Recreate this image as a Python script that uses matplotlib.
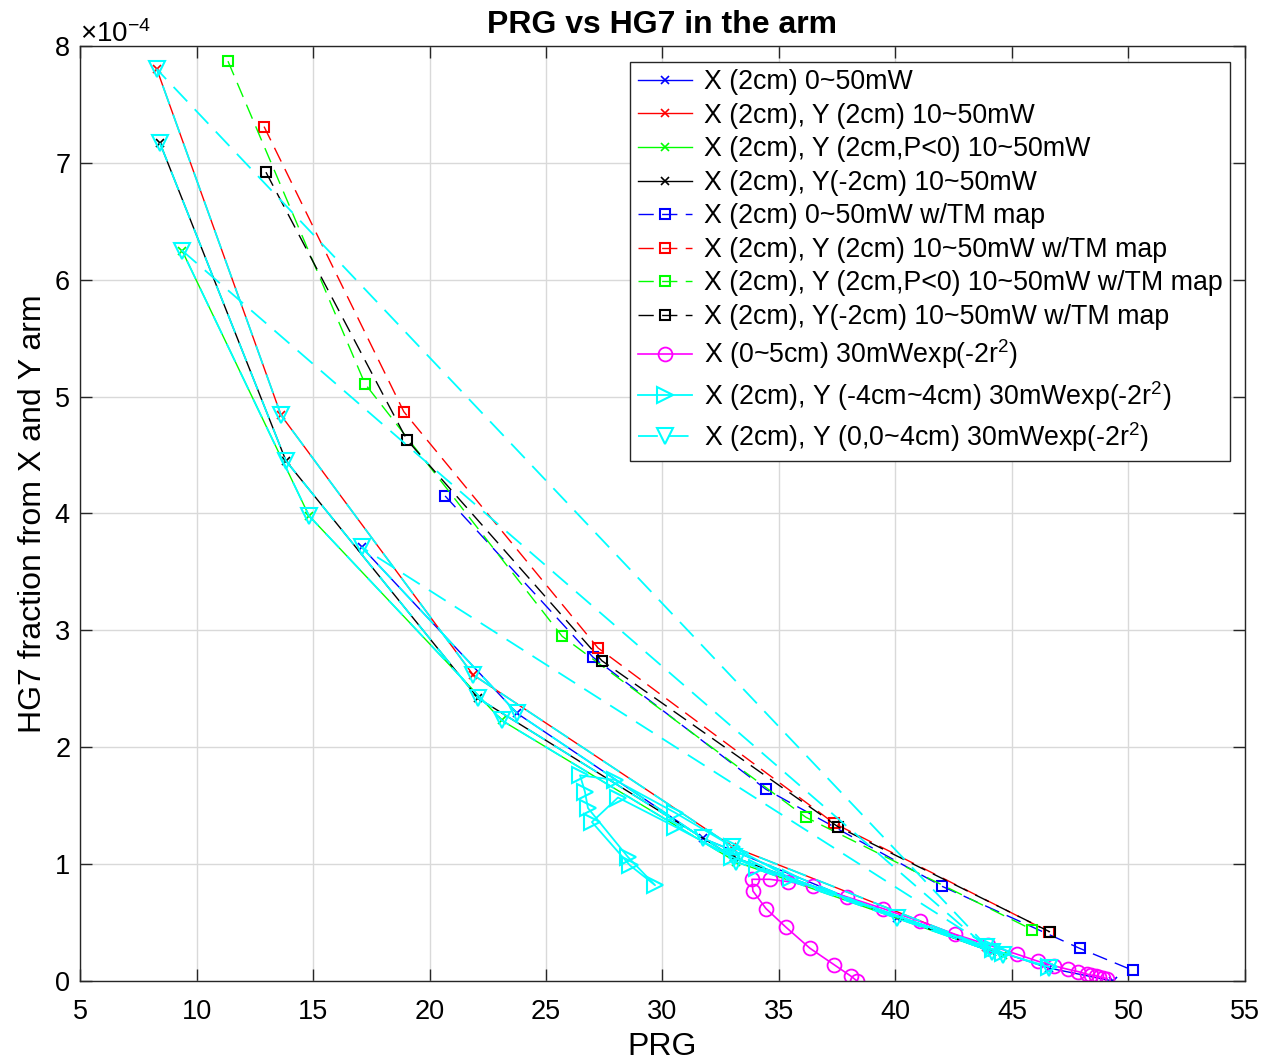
import matplotlib
matplotlib.use("Agg")
import matplotlib.pyplot as plt
from matplotlib.ticker import ScalarFormatter, MultipleLocator

plt.rcParams['font.family'] = ['Liberation Sans', 'DejaVu Sans']
plt.rcParams['mathtext.fontset'] = 'custom'
plt.rcParams['mathtext.rm'] = 'Liberation Sans'
plt.rcParams['mathtext.it'] = 'Liberation Sans'

SCALE = 1e-4

# ---- data (HG7 values in units of 1e-4) ----
blue_x_prg = [17.1, 23.76, 31.74, 40.06, 46.6, 49.33]
blue_x_hg7 = [3.71, 2.29, 1.22, 0.54, 0.11, 0.0]

red_x_prg = [8.3, 13.63, 21.87, 33.0, 43.9]
red_x_hg7 = [7.80, 4.84, 2.62, 1.15, 0.29]

green_x_prg = [9.38, 14.83, 23.1, 33.15, 44.6]
green_x_hg7 = [6.25, 3.98, 2.23, 1.02, 0.22]

black_x_prg = [8.43, 13.84, 22.08, 33.05, 44.14]
black_x_hg7 = [7.17, 4.45, 2.42, 1.06, 0.25]

blue_s_prg = [20.67, 27.02, 34.44, 42.0, 47.9, 50.2]
blue_s_hg7 = [4.15, 2.77, 1.64, 0.81, 0.28, 0.09]

red_s_prg = [12.9, 18.9, 27.23, 37.36, 46.6]
red_s_hg7 = [7.31, 4.87, 2.85, 1.35, 0.42]

green_s_prg = [11.35, 17.23, 25.69, 36.16, 45.86]
green_s_hg7 = [7.87, 5.11, 2.95, 1.40, 0.44]

black_s_prg = [12.98, 19.03, 27.4, 37.53, 46.63]
black_s_hg7 = [6.92, 4.63, 2.74, 1.32, 0.42]

mag_prg = [49.08, 48.9, 48.75, 48.6, 48.4, 48.2, 47.85, 47.4, 46.8, 46.1, 45.2,
           43.97, 42.55, 41.05, 39.46, 37.9, 36.46, 35.4, 34.6, 33.84,
           33.88, 34.44, 35.3, 36.33, 37.36, 38.1, 38.35]
mag_hg7 = [0.02, 0.03, 0.035, 0.045, 0.05, 0.06, 0.08, 0.10, 0.13, 0.17, 0.23,
           0.31, 0.40, 0.51, 0.62, 0.72, 0.81, 0.85, 0.87, 0.87,
           0.77, 0.62, 0.46, 0.28, 0.14, 0.04, 0.0]

tr_prg = [46.6, 44.6, 35.5, 33.0, 30.54, 27.96, 26.46, 26.67, 26.8, 28.52,
          29.68, 28.6, 26.97, 28.09, 30.54, 33.0, 34.05, 44.2]
tr_hg7 = [0.12, 0.24, 0.88, 1.15, 1.44, 1.72, 1.76, 1.62, 1.48, 1.06,
          0.82, 0.99, 1.36, 1.57, 1.32, 1.06, 0.97, 0.27]

tv_prg = [8.43, 13.84, 22.08, 33.05, 44.14,
          8.3, 13.63, 21.87, 33.0, 43.9,
          9.38, 14.83, 23.1, 33.15, 44.6,
          17.1, 23.76, 31.74, 40.06, 46.6]
tv_hg7 = [7.17, 4.45, 2.42, 1.06, 0.25,
          7.80, 4.84, 2.62, 1.15, 0.29,
          6.25, 3.98, 2.23, 1.02, 0.22,
          3.71, 2.29, 1.22, 0.54, 0.11]

labels = [
    'X (2cm) 0~50mW',
    'X (2cm), Y (2cm) 10~50mW',
    'X (2cm), Y (2cm,P<0) 10~50mW',
    'X (2cm), Y(-2cm) 10~50mW',
    'X (2cm) 0~50mW w/TM map',
    'X (2cm), Y (2cm) 10~50mW w/TM map',
    'X (2cm), Y (2cm,P<0) 10~50mW w/TM map',
    'X (2cm), Y(-2cm) 10~50mW w/TM map',
    'X (0~5cm) 30mWexp(-2r$^2$)',
    'X (2cm), Y (-4cm~4cm) 30mWexp(-2r$^2$)',
    'X (2cm), Y (0,0~4cm) 30mWexp(-2r$^2$)',
]

BLUE = (0, 0, 1)
RED = (1, 0, 0)
GREEN = (0, 1, 0)
BLACK = (0, 0, 0)
MAGENTA = (1, 0, 1)
CYAN = (0, 1, 1)

fig = plt.figure(figsize=(12.66, 10.64), dpi=100)
ax = fig.add_axes([0.0632, 0.078, 0.9202, 0.8788])

def s(v):
    return [a * SCALE for a in v]

lw = 1.0
dash = (11, 6)
ax.plot(blue_x_prg, s(blue_x_hg7), '-x', color=BLUE, lw=lw, ms=6, mew=1.2, label=labels[0])
ax.plot(red_x_prg, s(red_x_hg7), '-x', color=RED, lw=lw, ms=6, mew=1.2, label=labels[1])
ax.plot(green_x_prg, s(green_x_hg7), '-x', color=GREEN, lw=lw, ms=6, mew=1.2, label=labels[2])
ax.plot(black_x_prg, s(black_x_hg7), '-x', color=BLACK, lw=lw, ms=6, mew=1.2, label=labels[3])
ax.plot(blue_s_prg, s(blue_s_hg7), '--s', color=BLUE, lw=lw, ms=7, mew=1.5, mfc='none', dashes=dash, label=labels[4])
ax.plot(red_s_prg, s(red_s_hg7), '--s', color=RED, lw=lw, ms=7, mew=1.5, mfc='none', dashes=dash, label=labels[5])
ax.plot(green_s_prg, s(green_s_hg7), '--s', color=GREEN, lw=lw, ms=7, mew=1.5, mfc='none', dashes=dash, label=labels[6])
ax.plot(black_s_prg, s(black_s_hg7), '--s', color=BLACK, lw=lw, ms=7, mew=1.5, mfc='none', dashes=dash, label=labels[7])
ax.plot(mag_prg, s(mag_hg7), '-o', color=MAGENTA, lw=lw * 1.2, ms=10, mew=1.3, mfc='none', label=labels[8])
ax.plot(tr_prg, s(tr_hg7), '->', color=CYAN, lw=lw * 1.3, ms=11, mew=1.5, mfc='none', label=labels[9])
ax.plot(tv_prg, s(tv_hg7), '--v', color=CYAN, lw=lw * 1.3, ms=11, mew=1.5, mfc='none', dashes=dash, label=labels[10])

ax.set_xlim(5, 55)
ax.set_ylim(0, 8e-4)
ax.xaxis.set_major_locator(MultipleLocator(5))
ax.yaxis.set_major_locator(MultipleLocator(1e-4))
fmt = ScalarFormatter(useMathText=True)
fmt.set_powerlimits((-3, 3))
ax.yaxis.set_major_formatter(fmt)
ax.yaxis.get_offset_text().set_fontsize(20)

ax.grid(True, color='#d9d9d9', lw=1.0)
ax.set_axisbelow(True)
ax.tick_params(direction='in', length=8.5, width=1.0, labelsize=19.5, top=True, right=True,
               colors='#262626', labelcolor='black', pad=7)
ax.tick_params(axis='x', pad=13)
for sp in ax.spines.values():
    sp.set_color('#262626')
    sp.set_linewidth(1.0)

ax.set_title('PRG vs HG7 in the arm', fontsize=23, fontweight='bold', pad=9)
ax.set_xlabel('PRG', fontsize=23, labelpad=5)
ax.set_ylabel('HG7 fraction from X and Y arm', fontsize=23, labelpad=4)

leg = ax.legend(loc='upper right', bbox_to_anchor=(0.987, 0.983), fontsize=19.3,
                fancybox=False, framealpha=1, edgecolor='#262626', handlelength=2.0,
                handletextpad=0.45, labelspacing=0.28, borderpad=0.28, borderaxespad=0)
leg.get_frame().set_linewidth(1.0)

fig.savefig('out.png', dpi=100)
